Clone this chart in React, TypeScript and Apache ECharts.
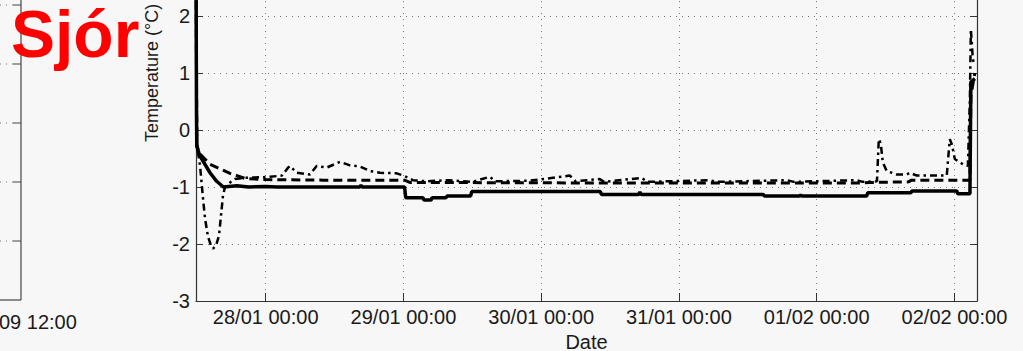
import React, { useEffect, useRef } from "react";
import * as echarts from "echarts";

// Hours relative to 28/01 00:00, temperature in °C
const solidLine: [number, number][] = [
  [-12.14, 3.0], [-12.05, 0.2], [-12.0, -0.29], [-11.44, -0.46], [-9.7, -0.75], [-8.53, -0.9],
  [-7.38, -1.0], [-5.0, -0.98], [-3.0, -1.0], [0, -0.99], [2, -1.0], [16.4, -1.0], [16.6, -0.97],
  [16.8, -1.0], [24.2, -1.0], [24.4, -1.19], [27.4, -1.19], [27.6, -1.23], [28.8, -1.23],
  [29.0, -1.19], [31.4, -1.19], [31.6, -1.16], [35.7, -1.16], [35.9, -1.08], [58.3, -1.08],
  [58.5, -1.13], [65.0, -1.13], [65.2, -1.09], [65.4, -1.13], [86.7, -1.13], [86.9, -1.16],
  [93.0, -1.16], [93.2, -1.14], [93.4, -1.16], [104.7, -1.16], [104.9, -1.1], [112.4, -1.1],
  [112.6, -1.07], [120.4, -1.07], [120.6, -1.12], [122.7, -1.12], [122.86, 0.84], [123.56, 0.9],
];

const dashedLine: [number, number][] = [
  [-12.14, 3.0], [-12.0, -0.25], [-11.8, -0.33], [-11.44, -0.42], [-9.7, -0.6], [-7.96, -0.68],
  [-6.22, -0.76], [-5.0, -0.8], [-3.6, -0.85], [0, -0.87], [10, -0.88], [24.2, -0.88],
  [25.1, -0.92], [60, -0.93], [104, -0.93], [105.2, -0.92], [112, -0.91], [112.5, -0.88],
  [122.7, -0.88], [122.86, 0.6], [123.56, 1.0],
];

const dashDotLine: [number, number][] = [
  [-12.14, 3.0], [-11.96, -0.2], [-11.79, -0.4], [-11.44, -0.62], [-10.92, -1.2], [-10.57, -1.55],
  [-10.05, -1.87], [-9.53, -2.03], [-9.18, -2.08], [-8.66, -2.03], [-8.13, -1.85], [-7.78, -1.5],
  [-7.44, -1.15], [-7.09, -1.0], [-6.57, -0.95], [-5.35, -0.86], [-3.6, -0.84], [-1.0, -0.83],
  [0.75, -0.82], [2.84, -0.8], [3.9, -0.66], [4.23, -0.63], [5.4, -0.75], [7.72, -0.78],
  [8.88, -0.63], [10.62, -0.66], [12.94, -0.56], [14.68, -0.62], [16.42, -0.64], [18.16, -0.72],
  [19.91, -0.75], [22.81, -0.76], [24.26, -0.81], [25.65, -0.88], [28, -0.9], [32, -0.88],
  [36, -0.91], [39.06, -0.82], [40, -0.9], [46, -0.89], [53.0, -0.8], [54, -0.9], [58.2, -0.86],
  [59, -0.91], [65.5, -0.84], [66.5, -0.91], [77.4, -0.88], [78.5, -0.91], [90.8, -0.88],
  [92, -0.91], [103, -0.88], [104, -0.91], [106.5, -0.9], [106.82, -0.16], [107.17, -0.24],
  [107.52, -0.57], [108.21, -0.72], [109.95, -0.78], [111.69, -0.78], [112.22, -0.75],
  [113.44, -0.8], [118.66, -0.8], [119.19, -0.16], [119.54, -0.25], [120.07, -0.51],
  [121.47, -0.6], [122.34, -0.63], [122.69, 0.54], [122.86, 1.77], [123.21, 1.24], [123.56, 1.13],
];

const axisStartHour = -12.14;
const axisEndHour = 123.93;
const yMin = -3;
const yMax = 5;
const yLabel = "Temperature (°C)";
const xLabel = "Date";
const title = "Sjór";
const leftPlotLabel = "09 12:00";

const BASE = new Date(2013, 0, 28, 0, 0).getTime();
const HOUR = 3600 * 1000;
const toT = (h: number) => BASE + h * HOUR;
const pad = (n: number) => (n < 10 ? "0" + n : "" + n);
const FONT = '"Liberation Sans", Arial, Helvetica, sans-serif';

export default function App() {
  const ref = useRef<HTMLDivElement>(null);
  useEffect(() => {
    if (!ref.current) return;
    const chart = echarts.init(ref.current, undefined, { renderer: "svg" });
    const leftTicksY = [5, 64, 123, 182, 241];
    const graphic: any[] = [];
    graphic.push({ type: "line", shape: { x1: 21, y1: 0, x2: 21, y2: 300 }, style: { stroke: "#444", lineWidth: 1.2 } });
    graphic.push({ type: "line", shape: { x1: 0, y1: 300, x2: 21, y2: 300 }, style: { stroke: "#444", lineWidth: 1.2 } });
    leftTicksY.forEach((y) => {
      graphic.push({ type: "line", shape: { x1: 13, y1: y, x2: 21, y2: y }, style: { stroke: "#444", lineWidth: 1 } });
      graphic.push({ type: "line", shape: { x1: 0, y1: y, x2: 13, y2: y }, style: { stroke: "#777", lineWidth: 1, lineDash: [1, 5] } });
    });
    graphic.push({
      type: "text",
      style: { x: -1, y: 322, text: leftPlotLabel, fill: "#1a1a1a", font: `20px ${FONT}`, verticalAlign: "middle", align: "left" },
    });
    graphic.push({
      type: "text",
      z: 100,
      style: { x: 11, y: 34, text: title, fill: "#ff0000", font: `bold 66px ${FONT}`, verticalAlign: "middle", align: "left" },
    });

    chart.setOption({
      animation: false,
      backgroundColor: "#f7f7f7",
      grid: { left: 196, right: 46, top: -155, bottom: 50, outerBoundsMode: "none", containLabel: false },
      xAxis: {
        type: "time",
        min: toT(axisStartHour),
        max: toT(axisEndHour),
        minInterval: 24 * HOUR,
        maxInterval: 24 * HOUR,
        name: xLabel,
        nameLocation: "middle",
        nameGap: 30,
        nameTextStyle: { fontSize: 20, color: "#1a1a1a", fontFamily: FONT },
        axisLine: { show: true, onZero: false, lineStyle: { color: "#333", width: 1.2 } },
        axisTick: { show: true, inside: true, length: 8, lineStyle: { color: "#333" } },
        axisLabel: {
          showMinLabel: false,
          showMaxLabel: false,
          fontSize: 20,
          margin: 6,
          color: "#1a1a1a",
          fontFamily: FONT,
          hideOverlap: false,
          formatter: (val: number) => {
            const d = new Date(val);
            return `${pad(d.getDate())}/${pad(d.getMonth() + 1)} ${pad(d.getHours())}:${pad(d.getMinutes())}`;
          },
        },
        splitLine: { show: true, lineStyle: { color: "#777", type: [1, 5], width: 1 } },
        minorTick: { show: false },
      },
      yAxis: [
        {
          type: "value",
          min: yMin,
          max: yMax,
          interval: 1,
          name: yLabel,
          nameLocation: "middle",
          nameGap: 33,
          nameRotate: 90,
          nameTextStyle: { fontSize: 18, color: "#1a1a1a", fontFamily: FONT },
          axisLine: { show: true, onZero: false, lineStyle: { color: "#333", width: 1.2 } },
          axisTick: { show: true, inside: true, length: 7, lineStyle: { color: "#333" } },
          axisLabel: { fontSize: 20, margin: 6, color: "#1a1a1a", fontFamily: FONT },
          splitLine: { show: true, lineStyle: { color: "#777", type: [1, 5], width: 1 } },
        },
        {
          type: "value",
          position: "right",
          min: yMin,
          max: yMax,
          interval: 1,
          axisLine: { show: true, onZero: false, lineStyle: { color: "#333", width: 1.2 } },
          axisTick: { show: true, inside: true, length: 7, lineStyle: { color: "#333" } },
          axisLabel: { show: false },
          splitLine: { show: false },
        },
      ],
      series: [
        {
          type: "line",
          data: solidLine.map(([h, v]) => [toT(h), v]),
          showSymbol: false,
          symbol: "none",
          lineStyle: { color: "#000", width: 3.5 },
          z: 3,
        },
        {
          type: "line",
          data: dashedLine.map(([h, v]) => [toT(h), v]),
          showSymbol: false,
          symbol: "none",
          lineStyle: { color: "#000", width: 3, type: [9, 5] },
          z: 2,
        },
        {
          type: "line",
          data: dashDotLine.map(([h, v]) => [toT(h), v]),
          showSymbol: false,
          symbol: "none",
          lineStyle: { color: "#000", width: 2.5, type: [7, 4, 2.5, 4] },
          z: 2,
        },
      ],
      graphic,
    });
    return () => chart.dispose();
  }, []);
  return <div ref={ref} style={{ position: "absolute", left: 0, top: 0, width: 1023, height: 351 }} />;
}
